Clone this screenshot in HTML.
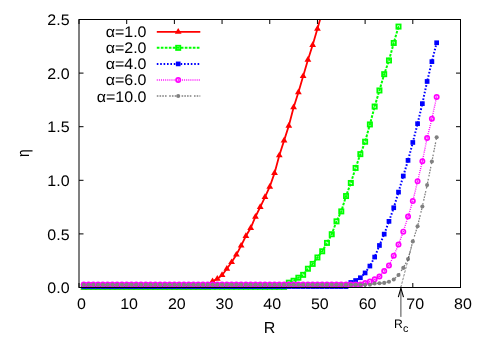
<!DOCTYPE html>
<html><head><meta charset="utf-8"><title>eta vs R</title>
<style>html,body{margin:0;padding:0;background:#fff}body{width:485px;height:339px;overflow:hidden;font-family:"Liberation Sans",sans-serif}</style>
</head><body>
<svg width="485" height="339" viewBox="0 0 485 339" style="display:block;will-change:transform;text-rendering:geometricPrecision;font-family:'Liberation Sans',sans-serif">
<rect width="485" height="339" fill="#ffffff"/>
<defs><clipPath id="cp"><rect x="79" y="19.5" width="381.5" height="268"/></clipPath></defs>
<path d="M79 287.5v-4.5M79 19.5v4.5M126.69 287.5v-4.5M126.69 19.5v4.5M174.38 287.5v-4.5M174.38 19.5v4.5M222.06 287.5v-4.5M222.06 19.5v4.5M269.75 287.5v-4.5M269.75 19.5v4.5M317.44 287.5v-4.5M317.44 19.5v4.5M365.12 287.5v-4.5M365.12 19.5v4.5M412.81 287.5v-4.5M412.81 19.5v4.5M460.5 287.5v-4.5M460.5 19.5v4.5M79 287.5h4.5M460.5 287.5h-4.5M79 233.9h4.5M460.5 233.9h-4.5M79 180.3h4.5M460.5 180.3h-4.5M79 126.7h4.5M460.5 126.7h-4.5M79 73.1h4.5M460.5 73.1h-4.5M79 19.5h4.5M460.5 19.5h-4.5" stroke="#000" stroke-width="1" fill="none"/>
<g>
<polyline clip-path="url(#cp)" points="83.77,287.5 88.54,287.5 93.31,287.5 98.08,287.5 102.84,287.5 107.61,287.5 112.38,287.5 117.15,287.5 121.92,287.5 126.69,287.5 131.46,287.5 136.22,287.5 140.99,287.5 145.76,287.5 150.53,287.5 155.3,287.5 160.07,287.5 164.84,287.5 169.61,287.5 174.38,287.5 179.14,287.5 183.91,287.5 188.68,287.5 193.45,287.5 198.22,287.5 202.99,287.5 207.76,287.5 212.53,281.28 217.29,278.92 222.06,275.17 226.83,268.74 231.6,262.2 236.37,254.7 241.14,245.69 245.91,236.04 250.68,228 255.44,216.75 260.21,207.1 264.98,197.13 269.75,186.73 274.52,173.12 279.29,155.43 284.06,140.64 288.82,125.84 293.59,107.4 298.36,92.4 303.13,76.21 307.9,59.91 312.67,45.01 317.44,28.83 322.21,12" fill="none" stroke="#ff0000" stroke-width="1.8"/>
<path d="M83.77 283.7 L87.17 289.4 L80.37 289.4 Z" fill="#ff0000"/>
<path d="M88.54 283.7 L91.94 289.4 L85.14 289.4 Z" fill="#ff0000"/>
<path d="M93.31 283.7 L96.71 289.4 L89.91 289.4 Z" fill="#ff0000"/>
<path d="M98.08 283.7 L101.48 289.4 L94.67 289.4 Z" fill="#ff0000"/>
<path d="M102.84 283.7 L106.24 289.4 L99.44 289.4 Z" fill="#ff0000"/>
<path d="M107.61 283.7 L111.01 289.4 L104.21 289.4 Z" fill="#ff0000"/>
<path d="M112.38 283.7 L115.78 289.4 L108.98 289.4 Z" fill="#ff0000"/>
<path d="M117.15 283.7 L120.55 289.4 L113.75 289.4 Z" fill="#ff0000"/>
<path d="M121.92 283.7 L125.32 289.4 L118.52 289.4 Z" fill="#ff0000"/>
<path d="M126.69 283.7 L130.09 289.4 L123.29 289.4 Z" fill="#ff0000"/>
<path d="M131.46 283.7 L134.86 289.4 L128.06 289.4 Z" fill="#ff0000"/>
<path d="M136.22 283.7 L139.62 289.4 L132.82 289.4 Z" fill="#ff0000"/>
<path d="M140.99 283.7 L144.39 289.4 L137.59 289.4 Z" fill="#ff0000"/>
<path d="M145.76 283.7 L149.16 289.4 L142.36 289.4 Z" fill="#ff0000"/>
<path d="M150.53 283.7 L153.93 289.4 L147.13 289.4 Z" fill="#ff0000"/>
<path d="M155.3 283.7 L158.7 289.4 L151.9 289.4 Z" fill="#ff0000"/>
<path d="M160.07 283.7 L163.47 289.4 L156.67 289.4 Z" fill="#ff0000"/>
<path d="M164.84 283.7 L168.24 289.4 L161.44 289.4 Z" fill="#ff0000"/>
<path d="M169.61 283.7 L173.01 289.4 L166.21 289.4 Z" fill="#ff0000"/>
<path d="M174.38 283.7 L177.78 289.4 L170.97 289.4 Z" fill="#ff0000"/>
<path d="M179.14 283.7 L182.54 289.4 L175.74 289.4 Z" fill="#ff0000"/>
<path d="M183.91 283.7 L187.31 289.4 L180.51 289.4 Z" fill="#ff0000"/>
<path d="M188.68 283.7 L192.08 289.4 L185.28 289.4 Z" fill="#ff0000"/>
<path d="M193.45 283.7 L196.85 289.4 L190.05 289.4 Z" fill="#ff0000"/>
<path d="M198.22 283.7 L201.62 289.4 L194.82 289.4 Z" fill="#ff0000"/>
<path d="M202.99 283.7 L206.39 289.4 L199.59 289.4 Z" fill="#ff0000"/>
<path d="M207.76 283.7 L211.16 289.4 L204.36 289.4 Z" fill="#ff0000"/>
<path d="M212.53 277.48 L215.93 283.18 L209.12 283.18 Z" fill="#ff0000"/>
<path d="M217.29 275.12 L220.69 280.82 L213.89 280.82 Z" fill="#ff0000"/>
<path d="M222.06 271.37 L225.46 277.07 L218.66 277.07 Z" fill="#ff0000"/>
<path d="M226.83 264.94 L230.23 270.64 L223.43 270.64 Z" fill="#ff0000"/>
<path d="M231.6 258.4 L235 264.1 L228.2 264.1 Z" fill="#ff0000"/>
<path d="M236.37 250.9 L239.77 256.6 L232.97 256.6 Z" fill="#ff0000"/>
<path d="M241.14 241.89 L244.54 247.59 L237.74 247.59 Z" fill="#ff0000"/>
<path d="M245.91 232.24 L249.31 237.94 L242.51 237.94 Z" fill="#ff0000"/>
<path d="M250.68 224.2 L254.08 229.9 L247.28 229.9 Z" fill="#ff0000"/>
<path d="M255.44 212.95 L258.84 218.65 L252.04 218.65 Z" fill="#ff0000"/>
<path d="M260.21 203.3 L263.61 209 L256.81 209 Z" fill="#ff0000"/>
<path d="M264.98 193.33 L268.38 199.03 L261.58 199.03 Z" fill="#ff0000"/>
<path d="M269.75 182.93 L273.15 188.63 L266.35 188.63 Z" fill="#ff0000"/>
<path d="M274.52 169.32 L277.92 175.02 L271.12 175.02 Z" fill="#ff0000"/>
<path d="M279.29 151.63 L282.69 157.33 L275.89 157.33 Z" fill="#ff0000"/>
<path d="M284.06 136.84 L287.46 142.54 L280.66 142.54 Z" fill="#ff0000"/>
<path d="M288.82 122.04 L292.22 127.74 L285.43 127.74 Z" fill="#ff0000"/>
<path d="M293.59 103.6 L296.99 109.3 L290.19 109.3 Z" fill="#ff0000"/>
<path d="M298.36 88.6 L301.76 94.3 L294.96 94.3 Z" fill="#ff0000"/>
<path d="M303.13 72.41 L306.53 78.11 L299.73 78.11 Z" fill="#ff0000"/>
<path d="M307.9 56.11 L311.3 61.81 L304.5 61.81 Z" fill="#ff0000"/>
<path d="M312.67 41.21 L316.07 46.91 L309.27 46.91 Z" fill="#ff0000"/>
<path d="M317.44 25.03 L320.84 30.73 L314.04 30.73 Z" fill="#ff0000"/>
<line x1="156.8" y1="31.8" x2="200.3" y2="31.8" stroke="#ff0000" stroke-width="1.8"/>
<path d="M178.2 28 L181.6 33.7 L174.8 33.7 Z" fill="#ff0000"/>
<text transform="translate(146.5 37.3) scale(1 0.955)" font-size="16" text-anchor="end" fill="#000">α=1.0</text>
</g>
<g>
<polyline clip-path="url(#cp)" points="83.77,286.8 88.54,286.8 93.31,286.8 98.08,286.8 102.84,286.8 107.61,286.8 112.38,286.8 117.15,286.8 121.92,286.8 126.69,286.8 131.46,286.8 136.22,286.8 140.99,286.8 145.76,286.8 150.53,286.8 155.3,286.8 160.07,286.8 164.84,286.8 169.61,286.8 174.38,286.8 179.14,286.8 183.91,286.8 188.68,286.8 193.45,286.8 198.22,286.8 202.99,286.8 207.76,286.8 212.53,286.8 217.29,286.8 222.06,286.8 226.83,286.8 231.6,286.8 236.37,286.8 241.14,286.8 245.91,286.8 250.68,286.8 255.44,286.8 260.21,286.8 264.98,286.8 269.75,286.8 274.52,286.8 279.29,286.8 284.06,286.8 288.82,282.68 293.59,280.75 298.36,277.74 303.13,274.85 307.9,268.74 312.67,263.92 317.44,257.48 322.21,251.27 326.98,242.9 331.74,234.22 336.51,221.36 341.28,211.39 346.05,196.06 350.82,182.98 355.59,167.97 360.36,154.14 365.12,141.71 369.89,124.45 374.66,106.55 379.43,90.47 384.2,74.17 388.97,60.45 393.74,42.98 398.51,26.58" fill="none" stroke="#00ff00" stroke-width="2.0" stroke-dasharray="2.67 1.33"/>
<rect x="81.67" y="284.7" width="4.2" height="4.2" fill="none" stroke="#00ff00" stroke-width="1.8"/><rect x="83.27" y="286.3" width="1" height="1" fill="#00ff00"/>
<rect x="86.44" y="284.7" width="4.2" height="4.2" fill="none" stroke="#00ff00" stroke-width="1.8"/><rect x="88.04" y="286.3" width="1" height="1" fill="#00ff00"/>
<rect x="91.21" y="284.7" width="4.2" height="4.2" fill="none" stroke="#00ff00" stroke-width="1.8"/><rect x="92.81" y="286.3" width="1" height="1" fill="#00ff00"/>
<rect x="95.98" y="284.7" width="4.2" height="4.2" fill="none" stroke="#00ff00" stroke-width="1.8"/><rect x="97.58" y="286.3" width="1" height="1" fill="#00ff00"/>
<rect x="100.74" y="284.7" width="4.2" height="4.2" fill="none" stroke="#00ff00" stroke-width="1.8"/><rect x="102.34" y="286.3" width="1" height="1" fill="#00ff00"/>
<rect x="105.51" y="284.7" width="4.2" height="4.2" fill="none" stroke="#00ff00" stroke-width="1.8"/><rect x="107.11" y="286.3" width="1" height="1" fill="#00ff00"/>
<rect x="110.28" y="284.7" width="4.2" height="4.2" fill="none" stroke="#00ff00" stroke-width="1.8"/><rect x="111.88" y="286.3" width="1" height="1" fill="#00ff00"/>
<rect x="115.05" y="284.7" width="4.2" height="4.2" fill="none" stroke="#00ff00" stroke-width="1.8"/><rect x="116.65" y="286.3" width="1" height="1" fill="#00ff00"/>
<rect x="119.82" y="284.7" width="4.2" height="4.2" fill="none" stroke="#00ff00" stroke-width="1.8"/><rect x="121.42" y="286.3" width="1" height="1" fill="#00ff00"/>
<rect x="124.59" y="284.7" width="4.2" height="4.2" fill="none" stroke="#00ff00" stroke-width="1.8"/><rect x="126.19" y="286.3" width="1" height="1" fill="#00ff00"/>
<rect x="129.36" y="284.7" width="4.2" height="4.2" fill="none" stroke="#00ff00" stroke-width="1.8"/><rect x="130.96" y="286.3" width="1" height="1" fill="#00ff00"/>
<rect x="134.12" y="284.7" width="4.2" height="4.2" fill="none" stroke="#00ff00" stroke-width="1.8"/><rect x="135.72" y="286.3" width="1" height="1" fill="#00ff00"/>
<rect x="138.89" y="284.7" width="4.2" height="4.2" fill="none" stroke="#00ff00" stroke-width="1.8"/><rect x="140.49" y="286.3" width="1" height="1" fill="#00ff00"/>
<rect x="143.66" y="284.7" width="4.2" height="4.2" fill="none" stroke="#00ff00" stroke-width="1.8"/><rect x="145.26" y="286.3" width="1" height="1" fill="#00ff00"/>
<rect x="148.43" y="284.7" width="4.2" height="4.2" fill="none" stroke="#00ff00" stroke-width="1.8"/><rect x="150.03" y="286.3" width="1" height="1" fill="#00ff00"/>
<rect x="153.2" y="284.7" width="4.2" height="4.2" fill="none" stroke="#00ff00" stroke-width="1.8"/><rect x="154.8" y="286.3" width="1" height="1" fill="#00ff00"/>
<rect x="157.97" y="284.7" width="4.2" height="4.2" fill="none" stroke="#00ff00" stroke-width="1.8"/><rect x="159.57" y="286.3" width="1" height="1" fill="#00ff00"/>
<rect x="162.74" y="284.7" width="4.2" height="4.2" fill="none" stroke="#00ff00" stroke-width="1.8"/><rect x="164.34" y="286.3" width="1" height="1" fill="#00ff00"/>
<rect x="167.51" y="284.7" width="4.2" height="4.2" fill="none" stroke="#00ff00" stroke-width="1.8"/><rect x="169.11" y="286.3" width="1" height="1" fill="#00ff00"/>
<rect x="172.28" y="284.7" width="4.2" height="4.2" fill="none" stroke="#00ff00" stroke-width="1.8"/><rect x="173.88" y="286.3" width="1" height="1" fill="#00ff00"/>
<rect x="177.04" y="284.7" width="4.2" height="4.2" fill="none" stroke="#00ff00" stroke-width="1.8"/><rect x="178.64" y="286.3" width="1" height="1" fill="#00ff00"/>
<rect x="181.81" y="284.7" width="4.2" height="4.2" fill="none" stroke="#00ff00" stroke-width="1.8"/><rect x="183.41" y="286.3" width="1" height="1" fill="#00ff00"/>
<rect x="186.58" y="284.7" width="4.2" height="4.2" fill="none" stroke="#00ff00" stroke-width="1.8"/><rect x="188.18" y="286.3" width="1" height="1" fill="#00ff00"/>
<rect x="191.35" y="284.7" width="4.2" height="4.2" fill="none" stroke="#00ff00" stroke-width="1.8"/><rect x="192.95" y="286.3" width="1" height="1" fill="#00ff00"/>
<rect x="196.12" y="284.7" width="4.2" height="4.2" fill="none" stroke="#00ff00" stroke-width="1.8"/><rect x="197.72" y="286.3" width="1" height="1" fill="#00ff00"/>
<rect x="200.89" y="284.7" width="4.2" height="4.2" fill="none" stroke="#00ff00" stroke-width="1.8"/><rect x="202.49" y="286.3" width="1" height="1" fill="#00ff00"/>
<rect x="205.66" y="284.7" width="4.2" height="4.2" fill="none" stroke="#00ff00" stroke-width="1.8"/><rect x="207.26" y="286.3" width="1" height="1" fill="#00ff00"/>
<rect x="210.43" y="284.7" width="4.2" height="4.2" fill="none" stroke="#00ff00" stroke-width="1.8"/><rect x="212.03" y="286.3" width="1" height="1" fill="#00ff00"/>
<rect x="215.19" y="284.7" width="4.2" height="4.2" fill="none" stroke="#00ff00" stroke-width="1.8"/><rect x="216.79" y="286.3" width="1" height="1" fill="#00ff00"/>
<rect x="219.96" y="284.7" width="4.2" height="4.2" fill="none" stroke="#00ff00" stroke-width="1.8"/><rect x="221.56" y="286.3" width="1" height="1" fill="#00ff00"/>
<rect x="224.73" y="284.7" width="4.2" height="4.2" fill="none" stroke="#00ff00" stroke-width="1.8"/><rect x="226.33" y="286.3" width="1" height="1" fill="#00ff00"/>
<rect x="229.5" y="284.7" width="4.2" height="4.2" fill="none" stroke="#00ff00" stroke-width="1.8"/><rect x="231.1" y="286.3" width="1" height="1" fill="#00ff00"/>
<rect x="234.27" y="284.7" width="4.2" height="4.2" fill="none" stroke="#00ff00" stroke-width="1.8"/><rect x="235.87" y="286.3" width="1" height="1" fill="#00ff00"/>
<rect x="239.04" y="284.7" width="4.2" height="4.2" fill="none" stroke="#00ff00" stroke-width="1.8"/><rect x="240.64" y="286.3" width="1" height="1" fill="#00ff00"/>
<rect x="243.81" y="284.7" width="4.2" height="4.2" fill="none" stroke="#00ff00" stroke-width="1.8"/><rect x="245.41" y="286.3" width="1" height="1" fill="#00ff00"/>
<rect x="248.58" y="284.7" width="4.2" height="4.2" fill="none" stroke="#00ff00" stroke-width="1.8"/><rect x="250.18" y="286.3" width="1" height="1" fill="#00ff00"/>
<rect x="253.34" y="284.7" width="4.2" height="4.2" fill="none" stroke="#00ff00" stroke-width="1.8"/><rect x="254.94" y="286.3" width="1" height="1" fill="#00ff00"/>
<rect x="258.11" y="284.7" width="4.2" height="4.2" fill="none" stroke="#00ff00" stroke-width="1.8"/><rect x="259.71" y="286.3" width="1" height="1" fill="#00ff00"/>
<rect x="262.88" y="284.7" width="4.2" height="4.2" fill="none" stroke="#00ff00" stroke-width="1.8"/><rect x="264.48" y="286.3" width="1" height="1" fill="#00ff00"/>
<rect x="267.65" y="284.7" width="4.2" height="4.2" fill="none" stroke="#00ff00" stroke-width="1.8"/><rect x="269.25" y="286.3" width="1" height="1" fill="#00ff00"/>
<rect x="272.42" y="284.7" width="4.2" height="4.2" fill="none" stroke="#00ff00" stroke-width="1.8"/><rect x="274.02" y="286.3" width="1" height="1" fill="#00ff00"/>
<rect x="277.19" y="284.7" width="4.2" height="4.2" fill="none" stroke="#00ff00" stroke-width="1.8"/><rect x="278.79" y="286.3" width="1" height="1" fill="#00ff00"/>
<rect x="281.96" y="284.7" width="4.2" height="4.2" fill="none" stroke="#00ff00" stroke-width="1.8"/><rect x="283.56" y="286.3" width="1" height="1" fill="#00ff00"/>
<rect x="286.72" y="280.58" width="4.2" height="4.2" fill="none" stroke="#00ff00" stroke-width="1.8"/><rect x="288.32" y="282.18" width="1" height="1" fill="#00ff00"/>
<rect x="291.49" y="278.65" width="4.2" height="4.2" fill="none" stroke="#00ff00" stroke-width="1.8"/><rect x="293.09" y="280.25" width="1" height="1" fill="#00ff00"/>
<rect x="296.26" y="275.64" width="4.2" height="4.2" fill="none" stroke="#00ff00" stroke-width="1.8"/><rect x="297.86" y="277.24" width="1" height="1" fill="#00ff00"/>
<rect x="301.03" y="272.75" width="4.2" height="4.2" fill="none" stroke="#00ff00" stroke-width="1.8"/><rect x="302.63" y="274.35" width="1" height="1" fill="#00ff00"/>
<rect x="305.8" y="266.64" width="4.2" height="4.2" fill="none" stroke="#00ff00" stroke-width="1.8"/><rect x="307.4" y="268.24" width="1" height="1" fill="#00ff00"/>
<rect x="310.57" y="261.82" width="4.2" height="4.2" fill="none" stroke="#00ff00" stroke-width="1.8"/><rect x="312.17" y="263.42" width="1" height="1" fill="#00ff00"/>
<rect x="315.34" y="255.38" width="4.2" height="4.2" fill="none" stroke="#00ff00" stroke-width="1.8"/><rect x="316.94" y="256.98" width="1" height="1" fill="#00ff00"/>
<rect x="320.11" y="249.17" width="4.2" height="4.2" fill="none" stroke="#00ff00" stroke-width="1.8"/><rect x="321.71" y="250.77" width="1" height="1" fill="#00ff00"/>
<rect x="324.88" y="240.8" width="4.2" height="4.2" fill="none" stroke="#00ff00" stroke-width="1.8"/><rect x="326.48" y="242.4" width="1" height="1" fill="#00ff00"/>
<rect x="329.64" y="232.12" width="4.2" height="4.2" fill="none" stroke="#00ff00" stroke-width="1.8"/><rect x="331.24" y="233.72" width="1" height="1" fill="#00ff00"/>
<rect x="334.41" y="219.26" width="4.2" height="4.2" fill="none" stroke="#00ff00" stroke-width="1.8"/><rect x="336.01" y="220.86" width="1" height="1" fill="#00ff00"/>
<rect x="339.18" y="209.29" width="4.2" height="4.2" fill="none" stroke="#00ff00" stroke-width="1.8"/><rect x="340.78" y="210.89" width="1" height="1" fill="#00ff00"/>
<rect x="343.95" y="193.96" width="4.2" height="4.2" fill="none" stroke="#00ff00" stroke-width="1.8"/><rect x="345.55" y="195.56" width="1" height="1" fill="#00ff00"/>
<rect x="348.72" y="180.88" width="4.2" height="4.2" fill="none" stroke="#00ff00" stroke-width="1.8"/><rect x="350.32" y="182.48" width="1" height="1" fill="#00ff00"/>
<rect x="353.49" y="165.87" width="4.2" height="4.2" fill="none" stroke="#00ff00" stroke-width="1.8"/><rect x="355.09" y="167.47" width="1" height="1" fill="#00ff00"/>
<rect x="358.26" y="152.04" width="4.2" height="4.2" fill="none" stroke="#00ff00" stroke-width="1.8"/><rect x="359.86" y="153.64" width="1" height="1" fill="#00ff00"/>
<rect x="363.02" y="139.61" width="4.2" height="4.2" fill="none" stroke="#00ff00" stroke-width="1.8"/><rect x="364.62" y="141.21" width="1" height="1" fill="#00ff00"/>
<rect x="367.79" y="122.35" width="4.2" height="4.2" fill="none" stroke="#00ff00" stroke-width="1.8"/><rect x="369.39" y="123.95" width="1" height="1" fill="#00ff00"/>
<rect x="372.56" y="104.45" width="4.2" height="4.2" fill="none" stroke="#00ff00" stroke-width="1.8"/><rect x="374.16" y="106.05" width="1" height="1" fill="#00ff00"/>
<rect x="377.33" y="88.37" width="4.2" height="4.2" fill="none" stroke="#00ff00" stroke-width="1.8"/><rect x="378.93" y="89.97" width="1" height="1" fill="#00ff00"/>
<rect x="382.1" y="72.07" width="4.2" height="4.2" fill="none" stroke="#00ff00" stroke-width="1.8"/><rect x="383.7" y="73.67" width="1" height="1" fill="#00ff00"/>
<rect x="386.87" y="58.35" width="4.2" height="4.2" fill="none" stroke="#00ff00" stroke-width="1.8"/><rect x="388.47" y="59.95" width="1" height="1" fill="#00ff00"/>
<rect x="391.64" y="40.88" width="4.2" height="4.2" fill="none" stroke="#00ff00" stroke-width="1.8"/><rect x="393.24" y="42.48" width="1" height="1" fill="#00ff00"/>
<rect x="396.41" y="24.48" width="4.2" height="4.2" fill="none" stroke="#00ff00" stroke-width="1.8"/><rect x="398.01" y="26.08" width="1" height="1" fill="#00ff00"/>
<line x1="156.8" y1="47.85" x2="200.3" y2="47.85" stroke="#00ff00" stroke-width="2.0" stroke-dasharray="2.67 1.33"/>
<rect x="176.1" y="45.75" width="4.2" height="4.2" fill="none" stroke="#00ff00" stroke-width="1.8"/><rect x="177.7" y="47.35" width="1" height="1" fill="#00ff00"/>
<text transform="translate(146.5 53.35) scale(1 0.955)" font-size="16" text-anchor="end" fill="#000">α=2.0</text>
</g>
<g>
<polyline clip-path="url(#cp)" points="83.77,286.55 88.54,286.55 93.31,286.55 98.08,286.55 102.84,286.55 107.61,286.55 112.38,286.55 117.15,286.55 121.92,286.55 126.69,286.55 131.46,286.55 136.22,286.55 140.99,286.55 145.76,286.55 150.53,286.55 155.3,286.55 160.07,286.55 164.84,286.55 169.61,286.55 174.38,286.55 179.14,286.55 183.91,286.55 188.68,286.55 193.45,286.55 198.22,286.55 202.99,286.55 207.76,286.55 212.53,286.55 217.29,286.55 222.06,286.55 226.83,286.55 231.6,286.55 236.37,286.55 241.14,286.55 245.91,286.55 250.68,286.55 255.44,286.55 260.21,286.55 264.98,286.55 269.75,286.55 274.52,286.55 279.29,286.55 284.06,286.55 288.82,286.55 293.59,286.55 298.36,286.55 303.13,286.55 307.9,286.55 312.67,286.55 317.44,286.55 322.21,286.55 326.98,286.55 331.74,286.55 336.51,286.55 341.28,286.55 346.05,286.55 350.82,282.46 355.59,280.53 360.36,277.74 365.12,272.92 369.89,266.06 374.66,257.06 379.43,245.48 384.2,234.11 388.97,221.36 393.74,207.74 398.51,192.09 403.27,176.01 408.04,160.36 412.81,142.46 417.58,123.7 422.35,103.65 427.12,81.46 431.89,61.63 436.66,42.76" fill="none" stroke="#0000ff" stroke-width="2.0" stroke-dasharray="1.6 1.8"/>
<rect x="81.42" y="284.2" width="4.7" height="4.7" fill="#0000ff"/>
<rect x="86.19" y="284.2" width="4.7" height="4.7" fill="#0000ff"/>
<rect x="90.96" y="284.2" width="4.7" height="4.7" fill="#0000ff"/>
<rect x="95.73" y="284.2" width="4.7" height="4.7" fill="#0000ff"/>
<rect x="100.49" y="284.2" width="4.7" height="4.7" fill="#0000ff"/>
<rect x="105.26" y="284.2" width="4.7" height="4.7" fill="#0000ff"/>
<rect x="110.03" y="284.2" width="4.7" height="4.7" fill="#0000ff"/>
<rect x="114.8" y="284.2" width="4.7" height="4.7" fill="#0000ff"/>
<rect x="119.57" y="284.2" width="4.7" height="4.7" fill="#0000ff"/>
<rect x="124.34" y="284.2" width="4.7" height="4.7" fill="#0000ff"/>
<rect x="129.11" y="284.2" width="4.7" height="4.7" fill="#0000ff"/>
<rect x="133.88" y="284.2" width="4.7" height="4.7" fill="#0000ff"/>
<rect x="138.64" y="284.2" width="4.7" height="4.7" fill="#0000ff"/>
<rect x="143.41" y="284.2" width="4.7" height="4.7" fill="#0000ff"/>
<rect x="148.18" y="284.2" width="4.7" height="4.7" fill="#0000ff"/>
<rect x="152.95" y="284.2" width="4.7" height="4.7" fill="#0000ff"/>
<rect x="157.72" y="284.2" width="4.7" height="4.7" fill="#0000ff"/>
<rect x="162.49" y="284.2" width="4.7" height="4.7" fill="#0000ff"/>
<rect x="167.26" y="284.2" width="4.7" height="4.7" fill="#0000ff"/>
<rect x="172.03" y="284.2" width="4.7" height="4.7" fill="#0000ff"/>
<rect x="176.79" y="284.2" width="4.7" height="4.7" fill="#0000ff"/>
<rect x="181.56" y="284.2" width="4.7" height="4.7" fill="#0000ff"/>
<rect x="186.33" y="284.2" width="4.7" height="4.7" fill="#0000ff"/>
<rect x="191.1" y="284.2" width="4.7" height="4.7" fill="#0000ff"/>
<rect x="195.87" y="284.2" width="4.7" height="4.7" fill="#0000ff"/>
<rect x="200.64" y="284.2" width="4.7" height="4.7" fill="#0000ff"/>
<rect x="205.41" y="284.2" width="4.7" height="4.7" fill="#0000ff"/>
<rect x="210.18" y="284.2" width="4.7" height="4.7" fill="#0000ff"/>
<rect x="214.94" y="284.2" width="4.7" height="4.7" fill="#0000ff"/>
<rect x="219.71" y="284.2" width="4.7" height="4.7" fill="#0000ff"/>
<rect x="224.48" y="284.2" width="4.7" height="4.7" fill="#0000ff"/>
<rect x="229.25" y="284.2" width="4.7" height="4.7" fill="#0000ff"/>
<rect x="234.02" y="284.2" width="4.7" height="4.7" fill="#0000ff"/>
<rect x="238.79" y="284.2" width="4.7" height="4.7" fill="#0000ff"/>
<rect x="243.56" y="284.2" width="4.7" height="4.7" fill="#0000ff"/>
<rect x="248.33" y="284.2" width="4.7" height="4.7" fill="#0000ff"/>
<rect x="253.09" y="284.2" width="4.7" height="4.7" fill="#0000ff"/>
<rect x="257.86" y="284.2" width="4.7" height="4.7" fill="#0000ff"/>
<rect x="262.63" y="284.2" width="4.7" height="4.7" fill="#0000ff"/>
<rect x="267.4" y="284.2" width="4.7" height="4.7" fill="#0000ff"/>
<rect x="272.17" y="284.2" width="4.7" height="4.7" fill="#0000ff"/>
<rect x="276.94" y="284.2" width="4.7" height="4.7" fill="#0000ff"/>
<rect x="281.71" y="284.2" width="4.7" height="4.7" fill="#0000ff"/>
<rect x="286.47" y="284.2" width="4.7" height="4.7" fill="#0000ff"/>
<rect x="291.24" y="284.2" width="4.7" height="4.7" fill="#0000ff"/>
<rect x="296.01" y="284.2" width="4.7" height="4.7" fill="#0000ff"/>
<rect x="300.78" y="284.2" width="4.7" height="4.7" fill="#0000ff"/>
<rect x="305.55" y="284.2" width="4.7" height="4.7" fill="#0000ff"/>
<rect x="310.32" y="284.2" width="4.7" height="4.7" fill="#0000ff"/>
<rect x="315.09" y="284.2" width="4.7" height="4.7" fill="#0000ff"/>
<rect x="319.86" y="284.2" width="4.7" height="4.7" fill="#0000ff"/>
<rect x="324.62" y="284.2" width="4.7" height="4.7" fill="#0000ff"/>
<rect x="329.39" y="284.2" width="4.7" height="4.7" fill="#0000ff"/>
<rect x="334.16" y="284.2" width="4.7" height="4.7" fill="#0000ff"/>
<rect x="338.93" y="284.2" width="4.7" height="4.7" fill="#0000ff"/>
<rect x="343.7" y="284.2" width="4.7" height="4.7" fill="#0000ff"/>
<rect x="348.47" y="280.11" width="4.7" height="4.7" fill="#0000ff"/>
<rect x="353.24" y="278.18" width="4.7" height="4.7" fill="#0000ff"/>
<rect x="358.01" y="275.39" width="4.7" height="4.7" fill="#0000ff"/>
<rect x="362.77" y="270.57" width="4.7" height="4.7" fill="#0000ff"/>
<rect x="367.54" y="263.71" width="4.7" height="4.7" fill="#0000ff"/>
<rect x="372.31" y="254.71" width="4.7" height="4.7" fill="#0000ff"/>
<rect x="377.08" y="243.13" width="4.7" height="4.7" fill="#0000ff"/>
<rect x="381.85" y="231.76" width="4.7" height="4.7" fill="#0000ff"/>
<rect x="386.62" y="219.01" width="4.7" height="4.7" fill="#0000ff"/>
<rect x="391.39" y="205.39" width="4.7" height="4.7" fill="#0000ff"/>
<rect x="396.16" y="189.74" width="4.7" height="4.7" fill="#0000ff"/>
<rect x="400.92" y="173.66" width="4.7" height="4.7" fill="#0000ff"/>
<rect x="405.69" y="158.01" width="4.7" height="4.7" fill="#0000ff"/>
<rect x="410.46" y="140.11" width="4.7" height="4.7" fill="#0000ff"/>
<rect x="415.23" y="121.35" width="4.7" height="4.7" fill="#0000ff"/>
<rect x="420" y="101.3" width="4.7" height="4.7" fill="#0000ff"/>
<rect x="424.77" y="79.11" width="4.7" height="4.7" fill="#0000ff"/>
<rect x="429.54" y="59.28" width="4.7" height="4.7" fill="#0000ff"/>
<rect x="434.31" y="40.41" width="4.7" height="4.7" fill="#0000ff"/>
<line x1="156.8" y1="63.9" x2="200.3" y2="63.9" stroke="#0000ff" stroke-width="2.0" stroke-dasharray="1.6 1.8"/>
<rect x="175.85" y="61.55" width="4.7" height="4.7" fill="#0000ff"/>
<text transform="translate(146.5 69.4) scale(1 0.955)" font-size="16" text-anchor="end" fill="#000">α=4.0</text>
</g>
<g>
<polyline clip-path="url(#cp)" points="83.77,284.5 88.54,284.5 93.31,284.5 98.08,284.5 102.84,284.5 107.61,284.5 112.38,284.5 117.15,284.5 121.92,284.5 126.69,284.5 131.46,284.5 136.22,284.5 140.99,284.5 145.76,284.5 150.53,284.5 155.3,284.5 160.07,284.5 164.84,284.5 169.61,284.5 174.38,284.5 179.14,284.5 183.91,284.5 188.68,284.5 193.45,284.5 198.22,284.5 202.99,284.5 207.76,284.5 212.53,284.5 217.29,284.5 222.06,284.5 226.83,284.5 231.6,284.5 236.37,284.5 241.14,284.5 245.91,284.5 250.68,284.5 255.44,284.5 260.21,284.5 264.98,284.5 269.75,284.5 274.52,284.5 279.29,284.5 284.06,284.5 288.82,284.5 293.59,284.5 298.36,284.5 303.13,284.5 307.9,284.5 312.67,284.5 317.44,284.5 322.21,284.5 326.98,284.5 331.74,284.5 336.51,284.5 341.28,284.5 346.05,284.5 350.82,284.5 355.59,284.5 360.36,284.5 365.12,283 369.89,281.6 374.66,279.35 379.43,276.57 384.2,270.99 388.97,265.52 393.74,255.66 398.51,244.62 403.27,231.65 408.04,216.53 412.81,201.1 417.58,181.37 422.35,161.33 427.12,138.06 431.89,118.66 436.66,97.01" fill="none" stroke="#ff00ff" stroke-width="1.4" stroke-dasharray="0.95 1.15"/>
<circle cx="83.77" cy="284.5" r="2.15" fill="none" stroke="#ff00ff" stroke-width="1.7"/><circle cx="83.77" cy="284.5" r="0.7" fill="#ff00ff"/>
<circle cx="88.54" cy="284.5" r="2.15" fill="none" stroke="#ff00ff" stroke-width="1.7"/><circle cx="88.54" cy="284.5" r="0.7" fill="#ff00ff"/>
<circle cx="93.31" cy="284.5" r="2.15" fill="none" stroke="#ff00ff" stroke-width="1.7"/><circle cx="93.31" cy="284.5" r="0.7" fill="#ff00ff"/>
<circle cx="98.08" cy="284.5" r="2.15" fill="none" stroke="#ff00ff" stroke-width="1.7"/><circle cx="98.08" cy="284.5" r="0.7" fill="#ff00ff"/>
<circle cx="102.84" cy="284.5" r="2.15" fill="none" stroke="#ff00ff" stroke-width="1.7"/><circle cx="102.84" cy="284.5" r="0.7" fill="#ff00ff"/>
<circle cx="107.61" cy="284.5" r="2.15" fill="none" stroke="#ff00ff" stroke-width="1.7"/><circle cx="107.61" cy="284.5" r="0.7" fill="#ff00ff"/>
<circle cx="112.38" cy="284.5" r="2.15" fill="none" stroke="#ff00ff" stroke-width="1.7"/><circle cx="112.38" cy="284.5" r="0.7" fill="#ff00ff"/>
<circle cx="117.15" cy="284.5" r="2.15" fill="none" stroke="#ff00ff" stroke-width="1.7"/><circle cx="117.15" cy="284.5" r="0.7" fill="#ff00ff"/>
<circle cx="121.92" cy="284.5" r="2.15" fill="none" stroke="#ff00ff" stroke-width="1.7"/><circle cx="121.92" cy="284.5" r="0.7" fill="#ff00ff"/>
<circle cx="126.69" cy="284.5" r="2.15" fill="none" stroke="#ff00ff" stroke-width="1.7"/><circle cx="126.69" cy="284.5" r="0.7" fill="#ff00ff"/>
<circle cx="131.46" cy="284.5" r="2.15" fill="none" stroke="#ff00ff" stroke-width="1.7"/><circle cx="131.46" cy="284.5" r="0.7" fill="#ff00ff"/>
<circle cx="136.22" cy="284.5" r="2.15" fill="none" stroke="#ff00ff" stroke-width="1.7"/><circle cx="136.22" cy="284.5" r="0.7" fill="#ff00ff"/>
<circle cx="140.99" cy="284.5" r="2.15" fill="none" stroke="#ff00ff" stroke-width="1.7"/><circle cx="140.99" cy="284.5" r="0.7" fill="#ff00ff"/>
<circle cx="145.76" cy="284.5" r="2.15" fill="none" stroke="#ff00ff" stroke-width="1.7"/><circle cx="145.76" cy="284.5" r="0.7" fill="#ff00ff"/>
<circle cx="150.53" cy="284.5" r="2.15" fill="none" stroke="#ff00ff" stroke-width="1.7"/><circle cx="150.53" cy="284.5" r="0.7" fill="#ff00ff"/>
<circle cx="155.3" cy="284.5" r="2.15" fill="none" stroke="#ff00ff" stroke-width="1.7"/><circle cx="155.3" cy="284.5" r="0.7" fill="#ff00ff"/>
<circle cx="160.07" cy="284.5" r="2.15" fill="none" stroke="#ff00ff" stroke-width="1.7"/><circle cx="160.07" cy="284.5" r="0.7" fill="#ff00ff"/>
<circle cx="164.84" cy="284.5" r="2.15" fill="none" stroke="#ff00ff" stroke-width="1.7"/><circle cx="164.84" cy="284.5" r="0.7" fill="#ff00ff"/>
<circle cx="169.61" cy="284.5" r="2.15" fill="none" stroke="#ff00ff" stroke-width="1.7"/><circle cx="169.61" cy="284.5" r="0.7" fill="#ff00ff"/>
<circle cx="174.38" cy="284.5" r="2.15" fill="none" stroke="#ff00ff" stroke-width="1.7"/><circle cx="174.38" cy="284.5" r="0.7" fill="#ff00ff"/>
<circle cx="179.14" cy="284.5" r="2.15" fill="none" stroke="#ff00ff" stroke-width="1.7"/><circle cx="179.14" cy="284.5" r="0.7" fill="#ff00ff"/>
<circle cx="183.91" cy="284.5" r="2.15" fill="none" stroke="#ff00ff" stroke-width="1.7"/><circle cx="183.91" cy="284.5" r="0.7" fill="#ff00ff"/>
<circle cx="188.68" cy="284.5" r="2.15" fill="none" stroke="#ff00ff" stroke-width="1.7"/><circle cx="188.68" cy="284.5" r="0.7" fill="#ff00ff"/>
<circle cx="193.45" cy="284.5" r="2.15" fill="none" stroke="#ff00ff" stroke-width="1.7"/><circle cx="193.45" cy="284.5" r="0.7" fill="#ff00ff"/>
<circle cx="198.22" cy="284.5" r="2.15" fill="none" stroke="#ff00ff" stroke-width="1.7"/><circle cx="198.22" cy="284.5" r="0.7" fill="#ff00ff"/>
<circle cx="202.99" cy="284.5" r="2.15" fill="none" stroke="#ff00ff" stroke-width="1.7"/><circle cx="202.99" cy="284.5" r="0.7" fill="#ff00ff"/>
<circle cx="207.76" cy="284.5" r="2.15" fill="none" stroke="#ff00ff" stroke-width="1.7"/><circle cx="207.76" cy="284.5" r="0.7" fill="#ff00ff"/>
<circle cx="212.53" cy="284.5" r="2.15" fill="none" stroke="#ff00ff" stroke-width="1.7"/><circle cx="212.53" cy="284.5" r="0.7" fill="#ff00ff"/>
<circle cx="217.29" cy="284.5" r="2.15" fill="none" stroke="#ff00ff" stroke-width="1.7"/><circle cx="217.29" cy="284.5" r="0.7" fill="#ff00ff"/>
<circle cx="222.06" cy="284.5" r="2.15" fill="none" stroke="#ff00ff" stroke-width="1.7"/><circle cx="222.06" cy="284.5" r="0.7" fill="#ff00ff"/>
<circle cx="226.83" cy="284.5" r="2.15" fill="none" stroke="#ff00ff" stroke-width="1.7"/><circle cx="226.83" cy="284.5" r="0.7" fill="#ff00ff"/>
<circle cx="231.6" cy="284.5" r="2.15" fill="none" stroke="#ff00ff" stroke-width="1.7"/><circle cx="231.6" cy="284.5" r="0.7" fill="#ff00ff"/>
<circle cx="236.37" cy="284.5" r="2.15" fill="none" stroke="#ff00ff" stroke-width="1.7"/><circle cx="236.37" cy="284.5" r="0.7" fill="#ff00ff"/>
<circle cx="241.14" cy="284.5" r="2.15" fill="none" stroke="#ff00ff" stroke-width="1.7"/><circle cx="241.14" cy="284.5" r="0.7" fill="#ff00ff"/>
<circle cx="245.91" cy="284.5" r="2.15" fill="none" stroke="#ff00ff" stroke-width="1.7"/><circle cx="245.91" cy="284.5" r="0.7" fill="#ff00ff"/>
<circle cx="250.68" cy="284.5" r="2.15" fill="none" stroke="#ff00ff" stroke-width="1.7"/><circle cx="250.68" cy="284.5" r="0.7" fill="#ff00ff"/>
<circle cx="255.44" cy="284.5" r="2.15" fill="none" stroke="#ff00ff" stroke-width="1.7"/><circle cx="255.44" cy="284.5" r="0.7" fill="#ff00ff"/>
<circle cx="260.21" cy="284.5" r="2.15" fill="none" stroke="#ff00ff" stroke-width="1.7"/><circle cx="260.21" cy="284.5" r="0.7" fill="#ff00ff"/>
<circle cx="264.98" cy="284.5" r="2.15" fill="none" stroke="#ff00ff" stroke-width="1.7"/><circle cx="264.98" cy="284.5" r="0.7" fill="#ff00ff"/>
<circle cx="269.75" cy="284.5" r="2.15" fill="none" stroke="#ff00ff" stroke-width="1.7"/><circle cx="269.75" cy="284.5" r="0.7" fill="#ff00ff"/>
<circle cx="274.52" cy="284.5" r="2.15" fill="none" stroke="#ff00ff" stroke-width="1.7"/><circle cx="274.52" cy="284.5" r="0.7" fill="#ff00ff"/>
<circle cx="279.29" cy="284.5" r="2.15" fill="none" stroke="#ff00ff" stroke-width="1.7"/><circle cx="279.29" cy="284.5" r="0.7" fill="#ff00ff"/>
<circle cx="284.06" cy="284.5" r="2.15" fill="none" stroke="#ff00ff" stroke-width="1.7"/><circle cx="284.06" cy="284.5" r="0.7" fill="#ff00ff"/>
<circle cx="288.82" cy="284.5" r="2.15" fill="none" stroke="#ff00ff" stroke-width="1.7"/><circle cx="288.82" cy="284.5" r="0.7" fill="#ff00ff"/>
<circle cx="293.59" cy="284.5" r="2.15" fill="none" stroke="#ff00ff" stroke-width="1.7"/><circle cx="293.59" cy="284.5" r="0.7" fill="#ff00ff"/>
<circle cx="298.36" cy="284.5" r="2.15" fill="none" stroke="#ff00ff" stroke-width="1.7"/><circle cx="298.36" cy="284.5" r="0.7" fill="#ff00ff"/>
<circle cx="303.13" cy="284.5" r="2.15" fill="none" stroke="#ff00ff" stroke-width="1.7"/><circle cx="303.13" cy="284.5" r="0.7" fill="#ff00ff"/>
<circle cx="307.9" cy="284.5" r="2.15" fill="none" stroke="#ff00ff" stroke-width="1.7"/><circle cx="307.9" cy="284.5" r="0.7" fill="#ff00ff"/>
<circle cx="312.67" cy="284.5" r="2.15" fill="none" stroke="#ff00ff" stroke-width="1.7"/><circle cx="312.67" cy="284.5" r="0.7" fill="#ff00ff"/>
<circle cx="317.44" cy="284.5" r="2.15" fill="none" stroke="#ff00ff" stroke-width="1.7"/><circle cx="317.44" cy="284.5" r="0.7" fill="#ff00ff"/>
<circle cx="322.21" cy="284.5" r="2.15" fill="none" stroke="#ff00ff" stroke-width="1.7"/><circle cx="322.21" cy="284.5" r="0.7" fill="#ff00ff"/>
<circle cx="326.98" cy="284.5" r="2.15" fill="none" stroke="#ff00ff" stroke-width="1.7"/><circle cx="326.98" cy="284.5" r="0.7" fill="#ff00ff"/>
<circle cx="331.74" cy="284.5" r="2.15" fill="none" stroke="#ff00ff" stroke-width="1.7"/><circle cx="331.74" cy="284.5" r="0.7" fill="#ff00ff"/>
<circle cx="336.51" cy="284.5" r="2.15" fill="none" stroke="#ff00ff" stroke-width="1.7"/><circle cx="336.51" cy="284.5" r="0.7" fill="#ff00ff"/>
<circle cx="341.28" cy="284.5" r="2.15" fill="none" stroke="#ff00ff" stroke-width="1.7"/><circle cx="341.28" cy="284.5" r="0.7" fill="#ff00ff"/>
<circle cx="346.05" cy="284.5" r="2.15" fill="none" stroke="#ff00ff" stroke-width="1.7"/><circle cx="346.05" cy="284.5" r="0.7" fill="#ff00ff"/>
<circle cx="350.82" cy="284.5" r="2.15" fill="none" stroke="#ff00ff" stroke-width="1.7"/><circle cx="350.82" cy="284.5" r="0.7" fill="#ff00ff"/>
<circle cx="355.59" cy="284.5" r="2.15" fill="none" stroke="#ff00ff" stroke-width="1.7"/><circle cx="355.59" cy="284.5" r="0.7" fill="#ff00ff"/>
<circle cx="360.36" cy="284.5" r="2.15" fill="none" stroke="#ff00ff" stroke-width="1.7"/><circle cx="360.36" cy="284.5" r="0.7" fill="#ff00ff"/>
<circle cx="365.12" cy="283" r="2.15" fill="none" stroke="#ff00ff" stroke-width="1.7"/><circle cx="365.12" cy="283" r="0.7" fill="#ff00ff"/>
<circle cx="369.89" cy="281.6" r="2.15" fill="none" stroke="#ff00ff" stroke-width="1.7"/><circle cx="369.89" cy="281.6" r="0.7" fill="#ff00ff"/>
<circle cx="374.66" cy="279.35" r="2.15" fill="none" stroke="#ff00ff" stroke-width="1.7"/><circle cx="374.66" cy="279.35" r="0.7" fill="#ff00ff"/>
<circle cx="379.43" cy="276.57" r="2.15" fill="none" stroke="#ff00ff" stroke-width="1.7"/><circle cx="379.43" cy="276.57" r="0.7" fill="#ff00ff"/>
<circle cx="384.2" cy="270.99" r="2.15" fill="none" stroke="#ff00ff" stroke-width="1.7"/><circle cx="384.2" cy="270.99" r="0.7" fill="#ff00ff"/>
<circle cx="388.97" cy="265.52" r="2.15" fill="none" stroke="#ff00ff" stroke-width="1.7"/><circle cx="388.97" cy="265.52" r="0.7" fill="#ff00ff"/>
<circle cx="393.74" cy="255.66" r="2.15" fill="none" stroke="#ff00ff" stroke-width="1.7"/><circle cx="393.74" cy="255.66" r="0.7" fill="#ff00ff"/>
<circle cx="398.51" cy="244.62" r="2.15" fill="none" stroke="#ff00ff" stroke-width="1.7"/><circle cx="398.51" cy="244.62" r="0.7" fill="#ff00ff"/>
<circle cx="403.27" cy="231.65" r="2.15" fill="none" stroke="#ff00ff" stroke-width="1.7"/><circle cx="403.27" cy="231.65" r="0.7" fill="#ff00ff"/>
<circle cx="408.04" cy="216.53" r="2.15" fill="none" stroke="#ff00ff" stroke-width="1.7"/><circle cx="408.04" cy="216.53" r="0.7" fill="#ff00ff"/>
<circle cx="412.81" cy="201.1" r="2.15" fill="none" stroke="#ff00ff" stroke-width="1.7"/><circle cx="412.81" cy="201.1" r="0.7" fill="#ff00ff"/>
<circle cx="417.58" cy="181.37" r="2.15" fill="none" stroke="#ff00ff" stroke-width="1.7"/><circle cx="417.58" cy="181.37" r="0.7" fill="#ff00ff"/>
<circle cx="422.35" cy="161.33" r="2.15" fill="none" stroke="#ff00ff" stroke-width="1.7"/><circle cx="422.35" cy="161.33" r="0.7" fill="#ff00ff"/>
<circle cx="427.12" cy="138.06" r="2.15" fill="none" stroke="#ff00ff" stroke-width="1.7"/><circle cx="427.12" cy="138.06" r="0.7" fill="#ff00ff"/>
<circle cx="431.89" cy="118.66" r="2.15" fill="none" stroke="#ff00ff" stroke-width="1.7"/><circle cx="431.89" cy="118.66" r="0.7" fill="#ff00ff"/>
<circle cx="436.66" cy="97.01" r="2.15" fill="none" stroke="#ff00ff" stroke-width="1.7"/><circle cx="436.66" cy="97.01" r="0.7" fill="#ff00ff"/>
<line x1="156.8" y1="79.95" x2="200.3" y2="79.95" stroke="#ff00ff" stroke-width="1.4" stroke-dasharray="0.95 1.15"/>
<circle cx="178.2" cy="79.95" r="2.15" fill="none" stroke="#ff00ff" stroke-width="1.7"/><circle cx="178.2" cy="79.95" r="0.7" fill="#ff00ff"/>
<text transform="translate(146.5 85.45) scale(1 0.955)" font-size="16" text-anchor="end" fill="#000">α=6.0</text>
</g>
<g>
<polyline clip-path="url(#cp)" points="83.77,284.71 88.54,284.71 93.31,284.71 98.08,284.71 102.84,284.71 107.61,284.71 112.38,284.71 117.15,284.71 121.92,284.71 126.69,284.71 131.46,284.71 136.22,284.71 140.99,284.71 145.76,284.71 150.53,284.71 155.3,284.71 160.07,284.71 164.84,284.71 169.61,284.71 174.38,284.71 179.14,284.71 183.91,284.71 188.68,284.71 193.45,284.71 198.22,284.71 202.99,284.71 207.76,284.71 212.53,284.71 217.29,284.71 222.06,284.71 226.83,284.71 231.6,284.71 236.37,284.71 241.14,284.71 245.91,284.71 250.68,284.71 255.44,284.71 260.21,284.71 264.98,284.71 269.75,284.71 274.52,284.71 279.29,284.71 284.06,284.71 288.82,284.71 293.59,284.71 298.36,284.71 303.13,284.71 307.9,284.71 312.67,284.71 317.44,284.71 322.21,284.71 326.98,284.71 331.74,284.71 336.51,284.71 341.28,284.71 346.05,284.71 350.82,284.71 355.59,284.71 360.36,284.71 365.12,284.71 369.89,284.71 374.66,283.53 379.43,283.32 384.2,282.89 388.97,281.71 393.74,279.46 398.51,275.06 403.27,267.88 408.04,259.09 412.81,241.4 417.58,226.18 422.35,206.46 427.12,185.12 431.89,161.54 436.66,137.31" fill="none" stroke="#808080" stroke-width="1.3" stroke-dasharray="1.6 1.13 1.6 1.13 1.6 1.13 1.6 2.6"/>
<circle cx="83.77" cy="284.71" r="2.05" fill="#808080"/>
<circle cx="88.54" cy="284.71" r="2.05" fill="#808080"/>
<circle cx="93.31" cy="284.71" r="2.05" fill="#808080"/>
<circle cx="98.08" cy="284.71" r="2.05" fill="#808080"/>
<circle cx="102.84" cy="284.71" r="2.05" fill="#808080"/>
<circle cx="107.61" cy="284.71" r="2.05" fill="#808080"/>
<circle cx="112.38" cy="284.71" r="2.05" fill="#808080"/>
<circle cx="117.15" cy="284.71" r="2.05" fill="#808080"/>
<circle cx="121.92" cy="284.71" r="2.05" fill="#808080"/>
<circle cx="126.69" cy="284.71" r="2.05" fill="#808080"/>
<circle cx="131.46" cy="284.71" r="2.05" fill="#808080"/>
<circle cx="136.22" cy="284.71" r="2.05" fill="#808080"/>
<circle cx="140.99" cy="284.71" r="2.05" fill="#808080"/>
<circle cx="145.76" cy="284.71" r="2.05" fill="#808080"/>
<circle cx="150.53" cy="284.71" r="2.05" fill="#808080"/>
<circle cx="155.3" cy="284.71" r="2.05" fill="#808080"/>
<circle cx="160.07" cy="284.71" r="2.05" fill="#808080"/>
<circle cx="164.84" cy="284.71" r="2.05" fill="#808080"/>
<circle cx="169.61" cy="284.71" r="2.05" fill="#808080"/>
<circle cx="174.38" cy="284.71" r="2.05" fill="#808080"/>
<circle cx="179.14" cy="284.71" r="2.05" fill="#808080"/>
<circle cx="183.91" cy="284.71" r="2.05" fill="#808080"/>
<circle cx="188.68" cy="284.71" r="2.05" fill="#808080"/>
<circle cx="193.45" cy="284.71" r="2.05" fill="#808080"/>
<circle cx="198.22" cy="284.71" r="2.05" fill="#808080"/>
<circle cx="202.99" cy="284.71" r="2.05" fill="#808080"/>
<circle cx="207.76" cy="284.71" r="2.05" fill="#808080"/>
<circle cx="212.53" cy="284.71" r="2.05" fill="#808080"/>
<circle cx="217.29" cy="284.71" r="2.05" fill="#808080"/>
<circle cx="222.06" cy="284.71" r="2.05" fill="#808080"/>
<circle cx="226.83" cy="284.71" r="2.05" fill="#808080"/>
<circle cx="231.6" cy="284.71" r="2.05" fill="#808080"/>
<circle cx="236.37" cy="284.71" r="2.05" fill="#808080"/>
<circle cx="241.14" cy="284.71" r="2.05" fill="#808080"/>
<circle cx="245.91" cy="284.71" r="2.05" fill="#808080"/>
<circle cx="250.68" cy="284.71" r="2.05" fill="#808080"/>
<circle cx="255.44" cy="284.71" r="2.05" fill="#808080"/>
<circle cx="260.21" cy="284.71" r="2.05" fill="#808080"/>
<circle cx="264.98" cy="284.71" r="2.05" fill="#808080"/>
<circle cx="269.75" cy="284.71" r="2.05" fill="#808080"/>
<circle cx="274.52" cy="284.71" r="2.05" fill="#808080"/>
<circle cx="279.29" cy="284.71" r="2.05" fill="#808080"/>
<circle cx="284.06" cy="284.71" r="2.05" fill="#808080"/>
<circle cx="288.82" cy="284.71" r="2.05" fill="#808080"/>
<circle cx="293.59" cy="284.71" r="2.05" fill="#808080"/>
<circle cx="298.36" cy="284.71" r="2.05" fill="#808080"/>
<circle cx="303.13" cy="284.71" r="2.05" fill="#808080"/>
<circle cx="307.9" cy="284.71" r="2.05" fill="#808080"/>
<circle cx="312.67" cy="284.71" r="2.05" fill="#808080"/>
<circle cx="317.44" cy="284.71" r="2.05" fill="#808080"/>
<circle cx="322.21" cy="284.71" r="2.05" fill="#808080"/>
<circle cx="326.98" cy="284.71" r="2.05" fill="#808080"/>
<circle cx="331.74" cy="284.71" r="2.05" fill="#808080"/>
<circle cx="336.51" cy="284.71" r="2.05" fill="#808080"/>
<circle cx="341.28" cy="284.71" r="2.05" fill="#808080"/>
<circle cx="346.05" cy="284.71" r="2.05" fill="#808080"/>
<circle cx="350.82" cy="284.71" r="2.05" fill="#808080"/>
<circle cx="355.59" cy="284.71" r="2.05" fill="#808080"/>
<circle cx="360.36" cy="284.71" r="2.05" fill="#808080"/>
<circle cx="365.12" cy="284.71" r="2.05" fill="#808080"/>
<circle cx="369.89" cy="284.71" r="2.05" fill="#808080"/>
<circle cx="374.66" cy="283.53" r="2.05" fill="#808080"/>
<circle cx="379.43" cy="283.32" r="2.05" fill="#808080"/>
<circle cx="384.2" cy="282.89" r="2.05" fill="#808080"/>
<circle cx="388.97" cy="281.71" r="2.05" fill="#808080"/>
<circle cx="393.74" cy="279.46" r="2.05" fill="#808080"/>
<circle cx="398.51" cy="275.06" r="2.05" fill="#808080"/>
<circle cx="403.27" cy="267.88" r="2.05" fill="#808080"/>
<circle cx="408.04" cy="259.09" r="2.05" fill="#808080"/>
<circle cx="412.81" cy="241.4" r="2.05" fill="#808080"/>
<circle cx="417.58" cy="226.18" r="2.05" fill="#808080"/>
<circle cx="422.35" cy="206.46" r="2.05" fill="#808080"/>
<circle cx="427.12" cy="185.12" r="2.05" fill="#808080"/>
<circle cx="431.89" cy="161.54" r="2.05" fill="#808080"/>
<circle cx="436.66" cy="137.31" r="2.05" fill="#808080"/>
<line x1="156.8" y1="96" x2="200.3" y2="96" stroke="#808080" stroke-width="1.3" stroke-dasharray="1.6 1.13 1.6 1.13 1.6 1.13 1.6 2.6"/>
<circle cx="178.2" cy="96" r="2.05" fill="#808080"/>
<text transform="translate(146.5 101.5) scale(1 0.955)" font-size="16" text-anchor="end" fill="#000">α=10.0</text>
</g>
<line x1="400.8" y1="287.5" x2="411.6" y2="246.4" stroke="#333" stroke-width="0.6" stroke-dasharray="2.5 1.3"/>
<rect x="79" y="19.5" width="381.5" height="268" stroke="#000" stroke-width="1" fill="none"/>
<g font-size="16" fill="#000">
<text transform="translate(81.4 309) scale(1 0.955)" text-anchor="middle">0</text>
<text transform="translate(129.09 309) scale(1 0.955)" text-anchor="middle">10</text>
<text transform="translate(176.78 309) scale(1 0.955)" text-anchor="middle">20</text>
<text transform="translate(224.46 309) scale(1 0.955)" text-anchor="middle">30</text>
<text transform="translate(272.15 309) scale(1 0.955)" text-anchor="middle">40</text>
<text transform="translate(319.84 309) scale(1 0.955)" text-anchor="middle">50</text>
<text transform="translate(367.52 309) scale(1 0.955)" text-anchor="middle">60</text>
<text transform="translate(415.21 309) scale(1 0.955)" text-anchor="middle">70</text>
<text transform="translate(462.9 309) scale(1 0.955)" text-anchor="middle">80</text>
<text transform="translate(69.6 293.1) scale(1 0.955)" text-anchor="end">0.0</text>
<text transform="translate(69.6 239.5) scale(1 0.955)" text-anchor="end">0.5</text>
<text transform="translate(69.6 185.9) scale(1 0.955)" text-anchor="end">1.0</text>
<text transform="translate(69.6 132.3) scale(1 0.955)" text-anchor="end">1.5</text>
<text transform="translate(69.6 78.7) scale(1 0.955)" text-anchor="end">2.0</text>
<text transform="translate(69.6 25.1) scale(1 0.955)" text-anchor="end">2.5</text>
<text x="269.6" y="332.5" text-anchor="middle">R</text>
<text transform="translate(29.3 153.2) rotate(-90) scale(0.8 1)" text-anchor="middle" font-size="17">η</text>
</g>
<g fill="none"><path d="M400.9 316.9V288.6" stroke="#333" stroke-width="0.9"/><path d="M398.3 297.2L400.9 288.2L403.5 297.2" stroke="#000" stroke-width="1.1"/></g>
<text x="394.1" y="327.5" font-size="12.2" fill="#000">R<tspan font-size="10.8" dy="4">c</tspan></text>
</svg>
</body></html>
